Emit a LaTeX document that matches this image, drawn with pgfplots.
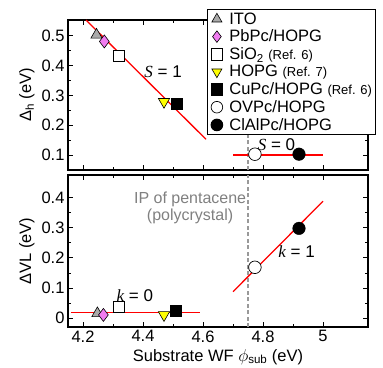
\documentclass[border=0pt]{standalone}
\usepackage{pgfplots}
\pgfplotsset{compat=1.18}
\usepackage{fontspec}
\setmainfont{Liberation Sans}
\newfontfamily\serifit{Liberation Serif}
\definecolor{itogray}{HTML}{AAAAAA}
\definecolor{pbpc}{HTML}{F07CF0}
\definecolor{hopgy}{HTML}{FFFF00}
\begin{document}
\begin{tikzpicture}[x=1pt,y=1pt]
\pgfplotsset{
  common/.style={
    scale only axis, width=300pt,
    xmin=4.15, xmax=5.15,
    xtick={4.2,4.4,4.6,4.8,5.0},
    minor x tick num=1, minor y tick num=1,
    tick align=inside,
    major tick length=5pt, minor tick length=3pt,
    every tick/.style={black, line width=0.9pt},
    axis line style={line width=1.1pt},
    /pgf/number format/assume math mode=true,
    tick label style={font=\fontsize{16.5}{18}\selectfont},
    label style={font=\fontsize{16.5}{18}\selectfont},
    clip=false,
  },
  itostyle/.style={only marks, mark=triangle*, mark size=6.5pt, mark options={fill=itogray, draw=black, line width=0.6pt}},
  pbstyle/.style={only marks, mark=diamond*, mark size=6.5pt, mark options={fill=pbpc, draw=black, line width=0.6pt}},
  sistyle/.style={only marks, mark=square*, mark size=5.5pt, mark options={fill=white, draw=black, line width=0.8pt}},
  hostyle/.style={only marks, mark=triangle*, mark size=6.5pt, mark options={fill=hopgy, draw=black, rotate=180, line width=0.6pt}},
  custyle/.style={only marks, mark=square*, mark size=5.5pt, mark options={fill=black, draw=black}},
  ovstyle/.style={only marks, mark=*, mark size=6.3pt, mark options={fill=white, draw=black, line width=0.7pt}},
  clstyle/.style={only marks, mark=*, mark size=6.3pt, mark options={fill=black, draw=black}},
}
\begin{axis}[common,
  at={(0,0)}, anchor=south west,
  height=150pt,
  ymin=0.05, ymax=0.553,
  ytick={0.1,0.2,0.3,0.4,0.5},
  xticklabels={},
  ylabel={Δ\textsubscript{h} (eV)},
  legend style={at={(0.463,1.073)}, anchor=north west, draw=black, line width=1pt,
    fill=white, font=\fontsize{16.5}{17}\selectfont, inner xsep=1pt, inner ysep=1pt,
    row sep=0.3pt, legend cell align=left},
  legend image code/.code={\path (0pt,0pt) (18pt,0pt); \draw[#1, mark size=5.8pt] plot coordinates {(8pt,0pt)};},
]
\addplot[gray!80, dashed, line width=1.2pt, dash pattern=on 4pt off 2.5pt, forget plot] coordinates {(4.75,0.05) (4.75,0.553)};
\addplot[itostyle] coordinates {(4.245,0.503)};
\addlegendentry{ITO}
\addplot[pbstyle] coordinates {(4.271,0.481)};
\addlegendentry{PbPc/HOPG}
\addplot[sistyle] coordinates {(4.32,0.431)};
\addlegendentry{SiO\textsubscript{2} {\fontsize{13}{14}\selectfont (Ref. 6)}}
\addplot[custyle, forget plot] coordinates {(4.512,0.272)};
\addplot[hostyle] coordinates {(4.47,0.279)};
\addlegendentry{HOPG {\fontsize{13}{14}\selectfont (Ref. 7)}}
\addlegendimage{custyle}
\addlegendentry{CuPc/HOPG {\fontsize{13}{14}\selectfont (Ref. 6)}}
\addplot[ovstyle] coordinates {(4.773,0.103)};
\addlegendentry{OVPc/HOPG}
\addplot[clstyle] coordinates {(4.92,0.103)};
\addlegendentry{ClAlPc/HOPG}
\addplot[red, line width=1.3pt, forget plot] coordinates {(4.21,0.553) (4.61,0.153)};
\addplot[red, line width=1.3pt, forget plot] coordinates {(4.70,0.10) (5.00,0.10)};
\node[font=\fontsize{17}{19}\selectfont] at (axis cs:4.467,0.38) {{\serifit\itshape S} = 1};
\node[font=\fontsize{17}{19}\selectfont, fill=none] at (axis cs:4.845,0.135) {{\serifit\itshape S} = 0};
\end{axis}
\begin{axis}[common,
  at={(0,-5pt)}, anchor=north west,
  height=152pt,
  ymin=-0.029, ymax=0.475,
  ytick={0,0.1,0.2,0.3,0.4},
  xlabel={Substrate WF $\phi_{\mathrm{sub}}$ (eV)},
  ylabel={ΔVL (eV)},
]
\addplot[gray!80, dashed, line width=1.2pt, dash pattern=on 4pt off 2.5pt] coordinates {(4.75,-0.029) (4.75,0.475)};
\addplot[red, line width=1.3pt] coordinates {(4.16,0.02) (4.59,0.02)};
\addplot[red, line width=1.3pt] coordinates {(4.70,0.088) (5.00,0.388)};
\addplot[itostyle] coordinates {(4.248,0.016)};
\addplot[pbstyle] coordinates {(4.268,0.011)};
\addplot[sistyle] coordinates {(4.321,0.038)};
\addplot[hostyle] coordinates {(4.47,0.011)};
\addplot[custyle] coordinates {(4.51,0.025)};
\addplot[ovstyle] coordinates {(4.773,0.169)};
\addplot[clstyle] coordinates {(4.92,0.298)};
\node[font=\fontsize{17}{19}\selectfont] at (axis cs:4.373,0.074) {{\serifit\itshape k} = 0};
\node[font=\fontsize{17}{19}\selectfont] at (axis cs:4.912,0.22) {{\serifit\itshape k} = 1};
\node[font=\fontsize{16}{17}\selectfont, text=gray, align=center] at (axis cs:4.557,0.366) {IP of pentacene\\(polycrystal)};
\end{axis}
\pgfresetboundingbox
\path (-68pt,-197pt) rectangle (315pt,170pt);
\end{tikzpicture}
\end{document}
